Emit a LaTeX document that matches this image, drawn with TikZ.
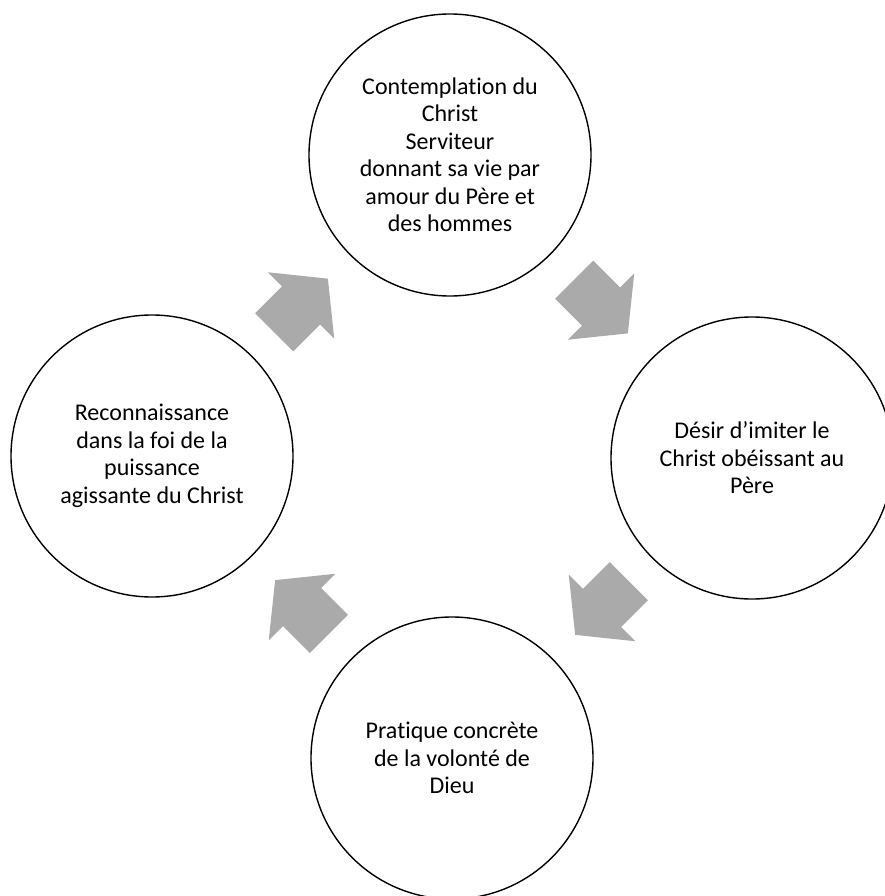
\documentclass[tikz,border=0pt]{standalone}
\usepackage{fontspec}
\setmainfont{Carlito}[Ligatures=NoCommon]
\usetikzlibrary{calc}
\definecolor{arrgray}{RGB}{170,170,170}
\tikzset{
  stage/.style={circle, draw=black, line width=1.4pt, minimum size=282pt, inner sep=0pt,
    align=center, font=\fontsize{24}{27.5}\selectfont},
  blockarrow/.style={fill=arrgray, draw=none}
}
\newcommand{\blockarrowpath}{(-38,-27) -- (0,-27) -- (0,-47) -- (38,0) -- (0,47) -- (0,27) -- (-38,27) -- cycle}
\begin{document}
\begin{tikzpicture}[x=1pt, y=-1pt]
\useasboundingbox (0,0) rectangle (885,896);
\clip (0,0) rectangle (885,896);
\fill[white] (0,0) rectangle (885,896);
\node[stage] (top) at (450,155) {Contemplation du\\Christ\\Serviteur\\donnant sa vie par\\amour du Père et\\des hommes};
\node[stage] (right) at (752,458) {Désir d’imiter le\\Christ obéissant au\\Père};
\node[stage] (bottom) at (452,758) {Pratique concrète\\de la volonté de\\Dieu};
\node[stage] (left) at (152,456) {Reconnaissance\\dans la foi de la\\puissance\\agissante du Christ};
\begin{scope}[shift={($(top)!0.5!(right)$)}, rotate=-45]
  \fill[blockarrow] \blockarrowpath;
\end{scope}
\begin{scope}[shift={($(right)!0.5!(bottom)$)}, rotate=-135]
  \fill[blockarrow] \blockarrowpath;
\end{scope}
\begin{scope}[shift={($(bottom)!0.5!(left)$)}, rotate=135]
  \fill[blockarrow] \blockarrowpath;
\end{scope}
\begin{scope}[shift={($(left)!0.5!(top)$)}, rotate=45]
  \fill[blockarrow] \blockarrowpath;
\end{scope}
\end{tikzpicture}
\end{document}
